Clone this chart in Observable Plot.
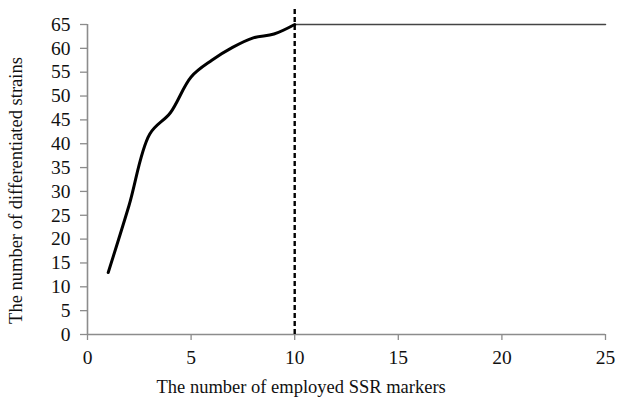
<!DOCTYPE html>
<html>
<head>
<meta charset="utf-8">
<script src="https://cdn.jsdelivr.net/npm/d3@7"></script>
<script src="https://cdn.jsdelivr.net/npm/@observablehq/plot@0.6"></script>
<style>
  body { margin: 0; background: #fff; }
</style>
</head>
<body>
<div id="chart"></div>
<script>
// Number of SSR markers employed and the strains they differentiate
const markerCount = [1, 2, 3, 4, 5, 6, 7, 8, 9, 10, 11, 12, 13, 14, 15, 16, 17, 18, 19, 20, 21, 22, 23, 24, 25];
const strainCount = [13, 27, 42, 46.5, 54, 57.5, 60.2, 62.2, 63, 65, 65, 65, 65, 65, 65, 65, 65, 65, 65, 65, 65, 65, 65, 65, 65];
// Marker count at which all strains are first differentiated
const saturationPoint = [10];

const xTicks = [0, 5, 10, 15, 20, 25];
const yTicks = [0, 5, 10, 15, 20, 25, 30, 35, 40, 45, 50, 55, 60, 65];

const xTitle = "The number of employed SSR markers";
const yTitle = "The number of differentiated strains";

const rows = markerCount.map((m, i) => ({markers: m, strains: strainCount[i]}));
const rising = rows.filter(d => d.markers <= saturationPoint[0]);
const plateau = rows.filter(d => d.markers >= saturationPoint[0]);

const serif = "'Liberation Serif', 'DejaVu Serif', serif";
const axisGray = "#8c8c8c";

const chart = Plot.plot({
  width: 617,
  height: 405,
  marginLeft: 87,
  marginRight: 12,
  marginTop: 24,
  marginBottom: 71,
  style: {fontFamily: serif, background: "#fff", color: "#111"},
  x: {domain: [0, 25]},
  y: {domain: [0, 65]},
  marks: [
    Plot.axisY({ticks: yTicks, tickSize: 7, tickPadding: 10, stroke: axisGray, strokeWidth: 1.3, fontSize: 19.5, fontFamily: serif, fill: "#111", label: null}),
    Plot.axisX({ticks: xTicks, tickSize: 6, tickPadding: 10, stroke: axisGray, strokeWidth: 1.3, fontSize: 19.5, fontFamily: serif, fill: "#111", label: null}),
    Plot.ruleX([0], {stroke: axisGray, strokeWidth: 1.6}),
    Plot.ruleY([0], {stroke: axisGray, strokeWidth: 1.6}),
    Plot.line(plateau, {x: "markers", y: "strains", stroke: "#444", strokeWidth: 1.5}),
    Plot.line(rising, {x: "markers", y: "strains", stroke: "#000", strokeWidth: 3, curve: "catmull-rom"}),
    Plot.ruleX(saturationPoint, {y1: 0, y2: 68.4, stroke: "#000", strokeWidth: 2.4, strokeDasharray: "5,3"}),
    Plot.text([xTitle], {frameAnchor: "bottom-left", dx: 69, dy: 58, textAnchor: "start", fontSize: 18.5, fontFamily: serif, fill: "#111"}),
    Plot.text([yTitle], {frameAnchor: "left", dx: -71, dy: 11, rotate: -90, textAnchor: "middle", fontSize: 18.5, fontFamily: serif, fill: "#111"})
  ]
});

document.getElementById("chart").append(chart);
</script>
</body>
</html>
